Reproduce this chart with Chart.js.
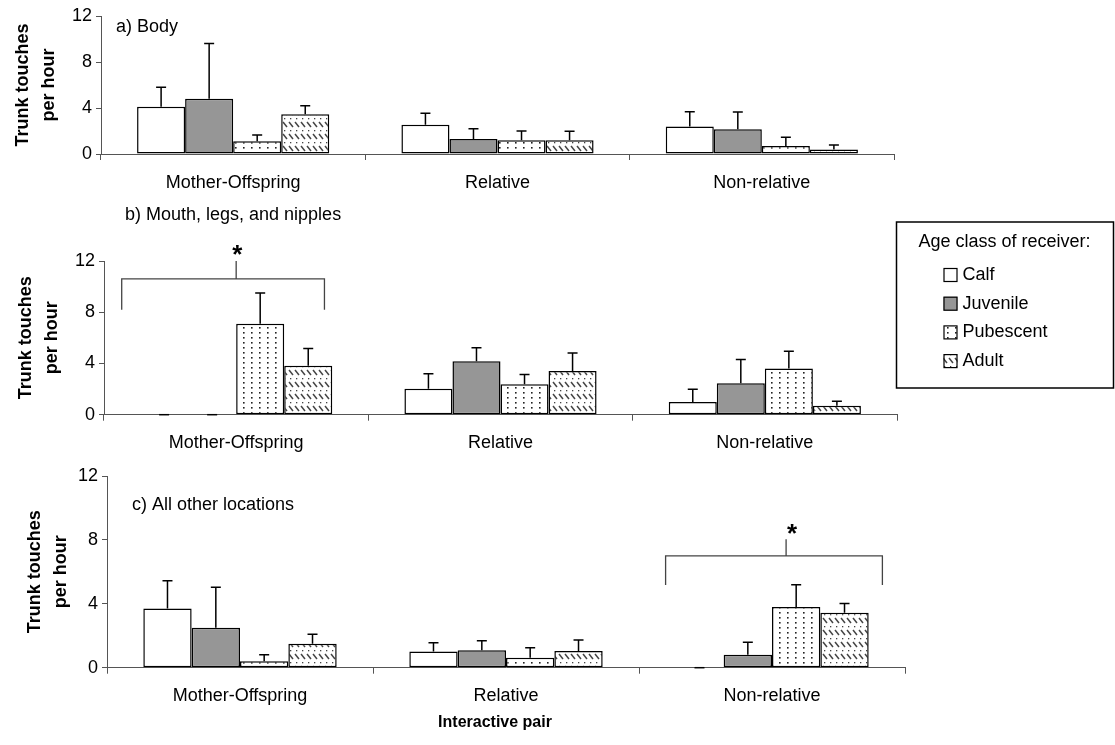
<!DOCTYPE html>
<html lang="en">
  <head>
    <meta charset="UTF-8" />
    <meta name="viewport" content="width=device-width, initial-scale=1.0" />
    <title>Trunk touches per hour</title>
    <script src="https://cdn.jsdelivr.net/npm/chart.js@4.4.0/dist/chart.umd.min.js"></script>
    <style>
      body { margin: 0; background: #fff; }
      .panel { position: absolute; left: 0; width: 1115px; }
    </style>
  </head>
  <body>
    <div class="panel" style="top:0;height:200px"><canvas id="chartA"></canvas></div>
    <div class="panel" style="top:200px;height:260px"><canvas id="chartB"></canvas></div>
    <div class="panel" style="top:460px;height:285px"><canvas id="chartC"></canvas></div>
    <script>
      var pairs = ['Mother-Offspring', 'Relative', 'Non-relative'];
      var ageClasses = ['Calf', 'Juvenile', 'Pubescent', 'Adult'];
      var yMax = 12;
      var yStep = 4;

      // rows follow ageClasses, columns follow pairs
      var bodyMean = [
        [4.1, 2.55, 2.4],
        [4.8, 1.3, 2.15],
        [1.1, 1.2, 0.7],
        [3.45, 1.2, 0.4]
      ];
      var bodySE = [
        [1.7, 1.0, 1.28],
        [4.8, 0.9, 1.5],
        [0.55, 0.8, 0.75],
        [0.75, 0.77, 0.38]
      ];

      var mouthMean = [
        [0, 2.03, 0.99],
        [0, 4.17, 2.45],
        [7.1, 2.37, 3.6],
        [3.83, 3.41, 0.7]
      ];
      var mouthSE = [
        [0, 1.17, 0.99],
        [0, 1.06, 1.85],
        [2.4, 0.76, 1.35],
        [1.33, 1.41, 0.35]
      ];

      var otherMean = [
        [3.71, 1.02, 0],
        [2.5, 1.09, 0.81],
        [0.4, 0.63, 3.8],
        [1.5, 1.04, 3.44]
      ];
      var otherSE = [
        [1.73, 0.54, 0],
        [2.54, 0.6, 0.79],
        [0.41, 0.62, 1.39],
        [0.6, 0.69, 0.58]
      ];

      // significance brackets, in category index / y units
      var mouthBracket = { from: -0.433, to: 0.334, mid: 0, level: 10.6, leg: 8.2, stem: 12, starX: 0.004, starY: 13.0 };
      var otherBracket = { from: 1.6, to: 2.415, mid: 2.053, level: 7.0, leg: 5.17, stem: 8.04, starX: 2.075, starY: 8.8 };

      var FONT = '"Liberation Sans", Arial, sans-serif';
      Chart.defaults.font.family = FONT;
      Chart.defaults.font.size = 18;
      Chart.defaults.color = '#000';

      function makePattern(kind) {
        var c = document.createElement('canvas');
        var g = c.getContext('2d');
        if (kind === 'dots') {
          c.width = 8; c.height = 10;
          g.fillStyle = '#fff'; g.fillRect(0, 0, 8, 10);
          g.fillStyle = '#222';
          g.fillRect(3, 2, 1.6, 1.6);
          g.fillRect(3, 7, 1.6, 1.6);
        } else {
          c.width = 6; c.height = 12;
          g.fillStyle = '#fff'; g.fillRect(0, 0, 6, 12);
          g.strokeStyle = '#444'; g.lineWidth = 1.5;
          g.beginPath(); g.moveTo(1, 2); g.lineTo(5, 7); g.stroke();
          g.fillStyle = '#444'; g.fillRect(2, 10, 1.3, 1.3);
        }
        return g.createPattern(c, 'repeat');
      }

      var fills = ['#ffffff', '#969696', makePattern('dots'), makePattern('hatch')];

      function buildDatasets(means, se) {
        return ageClasses.map(function (name, i) {
          return {
            label: name,
            data: means[i],
            se: se[i],
            backgroundColor: fills[i],
            borderColor: '#000',
            borderWidth: 1.5,
            borderSkipped: false,
            categoryPercentage: 0.727,
            barPercentage: 1
          };
        });
      }

      // upward error bars; a zero SE still leaves its cap on the baseline
      var errorBars = {
        id: 'errorBars',
        afterDatasetsDraw: function (chart) {
          var ctx = chart.ctx, y = chart.scales.y;
          ctx.save();
          ctx.strokeStyle = '#000';
          ctx.lineWidth = 1.5;
          chart.data.datasets.forEach(function (ds, i) {
            chart.getDatasetMeta(i).data.forEach(function (bar, j) {
              var se = ds.se[j] || 0;
              var top = y.getPixelForValue(ds.data[j] + se);
              ctx.beginPath();
              if (se) {
                ctx.moveTo(bar.x, bar.y);
                ctx.lineTo(bar.x, top);
              }
              ctx.moveTo(bar.x - 5, top);
              ctx.lineTo(bar.x + 5, top);
              ctx.stroke();
            });
          });
          ctx.restore();
        }
      };

      var bracket = {
        id: 'bracket',
        afterDraw: function (chart, args, o) {
          if (o.from === undefined) return;
          var ctx = chart.ctx, x = chart.scales.x, y = chart.scales.y;
          var x0 = x.getPixelForValue(o.from), x1 = x.getPixelForValue(o.to), xm = x.getPixelForValue(o.mid);
          var yl = y.getPixelForValue(o.level), yg = y.getPixelForValue(o.leg), ys = y.getPixelForValue(o.stem);
          ctx.save();
          ctx.strokeStyle = '#444';
          ctx.lineWidth = 1.3;
          ctx.beginPath();
          ctx.moveTo(x0, yg); ctx.lineTo(x0, yl); ctx.lineTo(x1, yl); ctx.lineTo(x1, yg);
          ctx.moveTo(xm, yl); ctx.lineTo(xm, ys);
          ctx.stroke();
          ctx.fillStyle = '#000';
          ctx.font = 'bold 26px ' + FONT;
          ctx.textAlign = 'center';
          ctx.textBaseline = 'alphabetic';
          ctx.fillText('*', x.getPixelForValue(o.starX), y.getPixelForValue(o.starY) + 15);
          ctx.restore();
        }
      };

      var panelText = {
        id: 'panelText',
        afterDraw: function (chart, args, o) {
          var ctx = chart.ctx;
          (o.items || []).forEach(function (t) {
            ctx.save();
            ctx.font = t.font || '18px ' + FONT;
            ctx.fillStyle = '#000';
            ctx.textAlign = t.align || 'left';
            ctx.textBaseline = 'middle';
            ctx.fillText(t.text, t.x, t.y);
            ctx.restore();
          });
        }
      };

      var boxLegend = {
        id: 'boxLegend',
        afterDraw: function (chart, args, o) {
          if (!o.show) return;
          var ctx = chart.ctx;
          ctx.save();
          ctx.strokeStyle = '#000';
          ctx.lineWidth = 1.5;
          ctx.strokeRect(o.left, o.top, o.width, o.height);
          ctx.font = '18px ' + FONT;
          ctx.textBaseline = 'middle';
          ctx.fillStyle = '#000';
          ctx.fillText(o.title, o.left + 22, o.top + 20);
          chart.data.datasets.forEach(function (ds, i) {
            var cy = o.top + 53 + i * 28.7;
            var sx = o.left + 47;
            ctx.fillStyle = ds.backgroundColor;
            ctx.fillRect(sx, cy - 7, 14, 14);
            ctx.lineWidth = 1.2;
            ctx.strokeRect(sx + 0.5, cy - 6.5, 13, 13);
            ctx.fillStyle = '#000';
            ctx.fillText(ds.label, sx + 19, cy);
          });
          ctx.restore();
        }
      };

      function makeChart(id, means, se, cfg) {
        return new Chart(document.getElementById(id), {
          type: 'bar',
          data: { labels: pairs, datasets: buildDatasets(means, se) },
          plugins: [errorBars, bracket, panelText, boxLegend],
          options: {
            responsive: true,
            maintainAspectRatio: false,
            animation: false,
            layout: { padding: { top: cfg.top, right: cfg.right, left: 0, bottom: 0 } },
            plugins: {
              legend: { display: false },
              tooltip: { enabled: false },
              bracket: cfg.bracket || {},
              panelText: { items: cfg.texts },
              boxLegend: cfg.legend || {}
            },
            scales: {
              x: {
                offset: true,
                grid: { offset: true, drawOnChartArea: false, tickLength: 6, color: '#555' },
                border: { color: '#555', width: 1 },
                ticks: { padding: 12, font: { size: 18 } },
                afterFit: function (s) { s.height = cfg.xHeight; }
              },
              y: {
                min: 0,
                max: yMax,
                ticks: { stepSize: yStep, padding: 4, font: { size: 18 } },
                grid: { drawOnChartArea: false, tickLength: 5, color: '#555' },
                border: { color: '#555', width: 1 },
                title: {
                  display: true,
                  text: ['Trunk touches', 'per hour'],
                  font: { size: 18, weight: 'bold', lineHeight: 1.44 },
                  padding: { top: cfg.titlePad, bottom: 0 }
                },
                afterFit: function (s) { s.width = cfg.yWidth; }
              }
            }
          }
        });
      }

      makeChart('chartA', bodyMean, bodySE, {
        top: 16, right: 221, xHeight: 46, yWidth: 101, titlePad: 10,
        texts: [{ text: 'a) Body', x: 116, y: 27 }]
      });

      makeChart('chartB', mouthMean, mouthSE, {
        top: 61, right: 218, xHeight: 45.3, yWidth: 104, titlePad: 13.5,
        bracket: mouthBracket,
        texts: [{ text: 'b) Mouth, legs, and nipples', x: 125, y: 15 }],
        legend: { show: true, left: 896.5, top: 22, width: 217, height: 166, title: 'Age class of receiver:' }
      });

      makeChart('chartC', otherMean, otherSE, {
        top: 16, right: 210, xHeight: 77.3, yWidth: 107, titlePad: 22.5,
        bracket: otherBracket,
        texts: [
          { text: 'c) All other locations', x: 132, y: 45 },
          { text: 'Interactive pair', x: 495, y: 263, align: 'center', font: 'bold 16px ' + FONT }
        ]
      });
    </script>
  </body>
</html>
